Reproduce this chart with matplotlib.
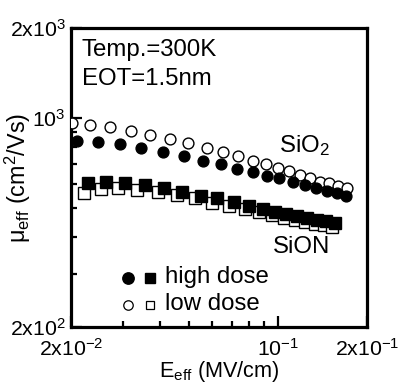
import matplotlib
matplotlib.use("Agg")
import matplotlib.pyplot as plt
from matplotlib.ticker import FixedLocator, FixedFormatter, NullFormatter

plt.rcParams['font.family'] = ['Liberation Sans', 'DejaVu Sans']
plt.rcParams['mathtext.fontset'] = 'custom'
plt.rcParams['mathtext.rm'] = 'Liberation Sans'
plt.rcParams['mathtext.it'] = 'Liberation Sans:italic'
plt.rcParams['mathtext.bf'] = 'Liberation Sans:bold'

# ---- data ----
sio2_low_E = [0.0202, 0.0232, 0.0271, 0.0319, 0.0370, 0.0432, 0.0497, 0.0576, 0.0652, 0.0733,
              0.0824, 0.0912, 0.1001, 0.1090, 0.1187, 0.1284, 0.1387, 0.1488, 0.1596, 0.1712]
sio2_low_mu = [962, 948, 933, 905, 877, 851, 825, 794, 770, 746,
               718, 702, 680, 665, 645, 630, 611, 606, 592, 583]

sio2_high_E = [0.0210, 0.0247, 0.0293, 0.0345, 0.0409, 0.0482, 0.0558, 0.0642, 0.0727,
               0.0824, 0.0919, 0.1008, 0.1125, 0.1235, 0.1345, 0.1465, 0.1584, 0.1698]
sio2_high_mu = [838, 831, 819, 794, 770, 746, 718, 702, 675,
                660, 640, 630, 611, 597, 583, 570, 561, 548]

sion_high_E = [0.0228, 0.0263, 0.0304, 0.0356, 0.0412, 0.0474, 0.0550, 0.0623, 0.0711,
               0.0799, 0.0890, 0.0978, 0.1065, 0.1160, 0.1254, 0.1356, 0.1454, 0.1559]
sion_high_mu = [606, 611, 606, 597, 583, 566, 548, 540, 524,
                508, 496, 485, 477, 470, 463, 456, 452, 446]

sion_low_E = [0.0221, 0.0253, 0.0288, 0.0334, 0.0393, 0.0456, 0.0525, 0.0599, 0.0684,
              0.0774, 0.0863, 0.0955, 0.1048, 0.1142, 0.1235, 0.1335, 0.1431, 0.1523]
sion_low_mu = [561, 579, 583, 574, 566, 553, 540, 520, 508,
               496, 485, 474, 463, 456, 449, 442, 439, 432]

x_major = [0.02, 0.1, 0.2]
x_major_labels = [r'$\mathregular{2x10^{-2}}$', r'$\mathregular{10^{-1}}$', r'$\mathregular{2x10^{-1}}$']
x_minor = [0.03, 0.04, 0.05, 0.06, 0.07, 0.08, 0.09]
y_major = [200, 1000, 2000]
y_major_labels = [r'$\mathregular{2x10^{2}}$', r'$\mathregular{10^{3}}$', r'$\mathregular{2x10^{3}}$']
y_minor = [300, 400, 500, 600, 700, 800, 900]

FS_TICK = 15.3
FS_TXT = 17.3
FS_LAB = 16.8
FS_XLAB = 15.6

fig = plt.figure(figsize=(4.0, 3.83), dpi=100)
ax = fig.add_axes([0.1775, 0.1462, 0.74, 0.7807])
ax.set_xscale('log')
ax.set_yscale('log')
ax.set_xlim(0.02, 0.2)
ax.set_ylim(200, 2000)

ms_c = 7.8
ms_s = 8.6
ax.plot(sio2_low_E, sio2_low_mu, 'o', ms=ms_c, mfc='white', mec='black', mew=1.0, ls='none', zorder=3)
ax.plot(sio2_high_E, sio2_high_mu, 'o', ms=ms_c, mfc='black', mec='black', ls='none', zorder=4)
ax.plot(sion_low_E, sion_low_mu, 's', ms=ms_s - 0.6, mfc='white', mec='black', mew=1.0, ls='none', zorder=3)
ax.plot(sion_high_E, sion_high_mu, 's', ms=ms_s, mfc='black', mec='black', ls='none', zorder=4)

ax.xaxis.set_major_locator(FixedLocator(x_major))
ax.xaxis.set_major_formatter(FixedFormatter(x_major_labels))
ax.xaxis.set_minor_locator(FixedLocator(x_minor))
ax.xaxis.set_minor_formatter(NullFormatter())
ax.yaxis.set_major_locator(FixedLocator(y_major))
ax.yaxis.set_major_formatter(FixedFormatter(y_major_labels))
ax.yaxis.set_minor_locator(FixedLocator(y_minor))
ax.yaxis.set_minor_formatter(NullFormatter())

ax.tick_params(which='major', direction='in', length=8, width=1.6, labelsize=FS_TICK, pad=4)
ax.tick_params(axis='x', which='major', pad=7.5)
ax.tick_params(which='minor', direction='in', length=4.5, width=1.6)
for s in ax.spines.values():
    s.set_linewidth(2.3)

ax.set_xlabel(r'$\mathregular{E_{eff}\ (MV/cm)}$', fontsize=FS_XLAB)
ax.xaxis.set_label_coords(0.5, -0.108)
ax.xaxis.label.set_va('top')
ax.set_ylabel(r'$\mathregular{μ_{eff}\ (cm^{2}/Vs)}$', fontsize=FS_LAB)
ax.yaxis.set_label_coords(-0.178, 0.5)
ax.yaxis.label.set_va('center')

ax.text(0.037, 0.906, 'Temp.=300K', transform=ax.transAxes, fontsize=FS_TXT, va='baseline', ha='left')
ax.text(0.037, 0.809, 'EOT=1.5nm', transform=ax.transAxes, fontsize=FS_TXT, va='baseline', ha='left')
ax.text(0.703, 0.585, r'$\mathregular{SiO_{2}}$', transform=ax.transAxes, fontsize=FS_TXT, va='baseline', ha='left')
ax.text(0.683, 0.247, 'SiON', transform=ax.transAxes, fontsize=FS_TXT, va='baseline', ha='left')

# legend key
ax.plot([0.1926], [0.164], 'o', ms=8.2, mfc='black', mec='black', transform=ax.transAxes, clip_on=False)
ax.plot([0.267], [0.164], 's', ms=7.0, mfc='black', mec='black', transform=ax.transAxes, clip_on=False)
ax.plot([0.1926], [0.0736], 'o', ms=6.8, mfc='white', mec='black', mew=0.9, transform=ax.transAxes, clip_on=False)
ax.plot([0.267], [0.0736], 's', ms=6.0, mfc='white', mec='black', mew=0.9, transform=ax.transAxes, clip_on=False)
ax.text(0.318, 0.147, 'high dose', transform=ax.transAxes, fontsize=FS_TXT, va='baseline', ha='left')
ax.text(0.318, 0.057, 'low dose', transform=ax.transAxes, fontsize=FS_TXT, va='baseline', ha='left')

fig.savefig('out.png', dpi=100)
